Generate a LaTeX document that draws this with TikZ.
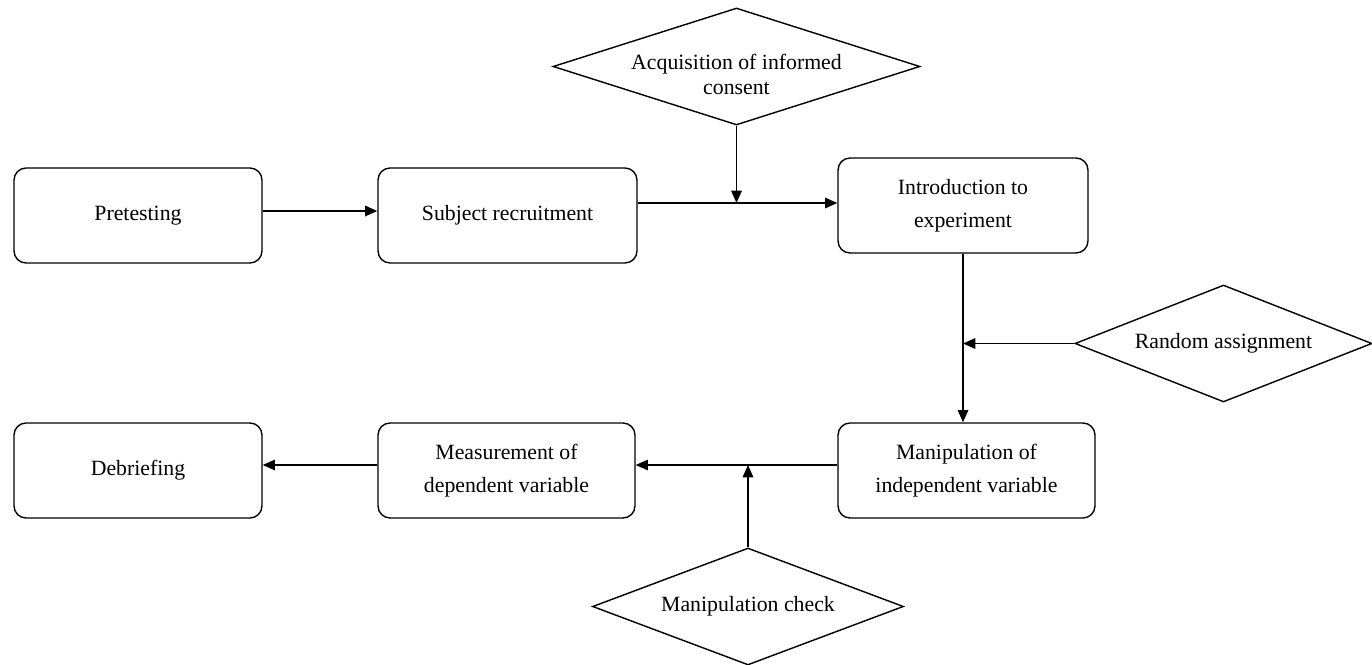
\documentclass[tikz,border=0pt]{standalone}
\usepackage{fontspec}
\setmainfont{Liberation Serif}
\usetikzlibrary{positioning,arrows.meta,calc,shapes.geometric}

\begin{document}
\begin{tikzpicture}[x=0.02cm,y=-0.02cm,
    paso/.style={draw,rounded corners=0.24cm,line width=0.8pt,align=center,
      minimum height=1.9cm,inner sep=2pt,font=\fontsize{12.4}{18.8}\selectfont},
    decision/.style={draw,diamond,line width=0.8pt,inner sep=0pt,
      minimum height=2.34cm},
    dtext/.style={align=center,font=\fontsize{12.4}{14.3}\selectfont},
    flow/.style={-{Triangle[length=7pt,width=6pt]},line width=0.8pt}]
    \useasboundingbox (0,0) rectangle (1372,665);
    % boxes
    \node[paso,minimum width=4.96cm] (pre) at (138,215.5) {Pretesting};
    \node[paso,minimum width=5.18cm] (sub) at (507.5,215.5) {Subject recruitment};
    \node[paso,minimum width=5cm] (intro) at (963,205.5) {Introduction to\\experiment};
    \node[paso,minimum width=5.14cm] (miv) at (966.5,470.5) {Manipulation of\\independent variable};
    \node[paso,minimum width=5.14cm] (meas) at (506.5,470.5) {Measurement of\\dependent variable};
    \node[paso,minimum width=4.96cm] (deb) at (138,470.5) {Debriefing};
    % diamonds
    \node[decision,minimum width=7.34cm,
      label={[dtext,yshift=-0.16cm]center:Acquisition of informed\\consent}]
      (consent) at (736.5,66.5) {};
    \node[decision,minimum width=5.94cm,
      label={[dtext]center:Random assignment}]
      (ra) at (1223.5,343.5) {};
    \node[decision,minimum width=6.22cm,
      label={[dtext]center:Manipulation check}]
      (check) at (748,606.5) {};
    % junctions
    \coordinate (j1) at (consent.south |- 0,203);
    \coordinate (j2) at (intro.south |- ra.west);
    \coordinate (j3) at (check.north |- 0,465);
    % arrows
    \draw[flow] ([yshift=0.09cm]pre.east) -- ([yshift=0.09cm]sub.west);
    \draw[flow] (sub.east |- j1) -- (intro.west |- j1);
    \draw[flow] (consent.south) -- (j1);
    \draw[flow] (intro.south) -- (intro.south |- miv.north);
    \draw[flow] (ra.west) -- (j2);
    \draw[flow] (miv.west |- j3) -- (meas.east |- j3);
    \draw[flow] (check.north) -- (j3);
    \draw[flow] (meas.west |- j3) -- (deb.east |- j3);
\end{tikzpicture}
\end{document}
